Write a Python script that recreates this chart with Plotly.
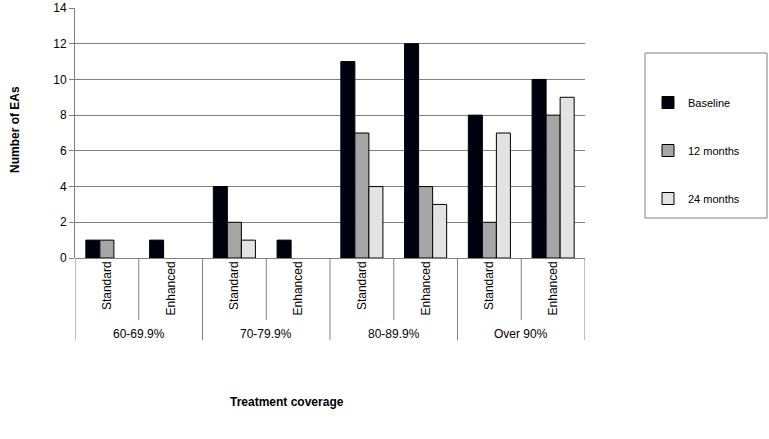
import plotly.graph_objects as go

categories = ["Standard", "Enhanced", "Standard", "Enhanced", "Standard", "Enhanced", "Standard", "Enhanced"]
groups = ["60-69.9%", "70-79.9%", "80-89.9%", "Over 90%"]
baseline = [1, 1, 4, 1, 11, 12, 8, 10]
months12 = [1, 0, 2, 0, 7, 4, 2, 8]
months24 = [0, 0, 1, 0, 4, 3, 7, 9]
series_names = ["Baseline", "12 months", "24 months"]
series_colors = ["#00000f", "#a6a6a6", "#e3e3e3"]
y_ticks = [0, 2, 4, 6, 8, 10, 12, 14]

xpos = list(range(len(categories)))
FONT = "Liberation Sans, Arial, sans-serif"

fig = go.Figure()
for i, (name, vals, col) in enumerate(zip(series_names, [baseline, months12, months24], series_colors)):
    fig.add_trace(go.Bar(
        x=xpos, y=[v if v else None for v in vals], name=name, legendgroup=name,
        marker=dict(color=col, line=dict(color="#000000", width=1)),
    ))

# plot area in px: left 75, right 585, top 8, bottom 258
L, R, T, B = 75, 585, 8, 258
W, H = R - L, B - T
def px_x(p): return (p - L) / W
def px_y(p): return (B - p) / H

shapes = []
for k in range(len(categories) + 1):
    xb = k - 0.5
    long = (k % 2 == 0)
    shapes.append(dict(type="line", xref="x", yref="paper", x0=xb, x1=xb,
                       y0=0, y1=px_y(340 if long else 320),
                       line=dict(color="#808080", width=1)))
shapes.append(dict(type="rect", xref="paper", yref="paper",
                   x0=px_x(645), x1=px_x(767), y0=px_y(218), y1=px_y(53),
                   line=dict(color="#808080", width=1), fillcolor="rgba(0,0,0,0)"))

annotations = []
for g, name in enumerate(groups):
    annotations.append(dict(x=2 * g + 0.5, xref="x", y=px_y(334), yref="paper",
                            text=name, showarrow=False,
                            font=dict(family=FONT, size=12, color="#000000"),
                            xanchor="center", yanchor="middle"))
annotations.append(dict(x=px_x(15), xref="paper", y=px_y(130), yref="paper",
                        text="<b>Number of EAs</b>", textangle=-90, showarrow=False,
                        font=dict(family=FONT, size=12, color="#000000"),
                        xanchor="center", yanchor="middle"))
annotations.append(dict(x=px_x(287), xref="paper", y=px_y(402), yref="paper",
                        text="<b>Treatment coverage</b>", showarrow=False,
                        font=dict(family=FONT, size=12, color="#000000"),
                        xanchor="center", yanchor="middle"))

fig.update_layout(
    width=769, height=439,
    margin=dict(l=L, r=769 - R, t=T, b=439 - B, pad=0, autoexpand=False),
    paper_bgcolor="white", plot_bgcolor="white",
    barmode="group", bargap=0.34, bargroupgap=0,
    font=dict(family=FONT, size=12, color="#000000"),
    xaxis=dict(range=[-0.5, len(categories) - 0.5], tickmode="array",
               tickvals=xpos, ticktext=categories, tickangle=-90,
               showgrid=False, zeroline=False, showline=False, ticks="",
               tickfont=dict(family=FONT, size=12, color="#000000"),
               automargin=False, fixedrange=True),
    yaxis=dict(range=[0, 14], tickmode="array", tickvals=y_ticks,
               showgrid=True, gridcolor="#808080", gridwidth=1,
               zeroline=True, zerolinecolor="#808080", zerolinewidth=1,
               showline=True, linecolor="#808080", linewidth=1,
               ticks="outside", ticklen=5, tickcolor="#808080",
               tickfont=dict(family=FONT, size=12, color="#000000"),
               automargin=False, fixedrange=True),
    legend=dict(x=px_x(648), xanchor="left", y=px_y(88), yanchor="top",
                itemwidth=30, tracegroupgap=29, bgcolor="rgba(0,0,0,0)", borderwidth=0,
                font=dict(family=FONT, size=11, color="#000000"),
                itemclick=False, itemdoubleclick=False),
    shapes=shapes, annotations=annotations,
    showlegend=True,
)

fig.write_html("out.html", config={"displayModeBar": False},
               post_script="document.body.style.margin='0';")
